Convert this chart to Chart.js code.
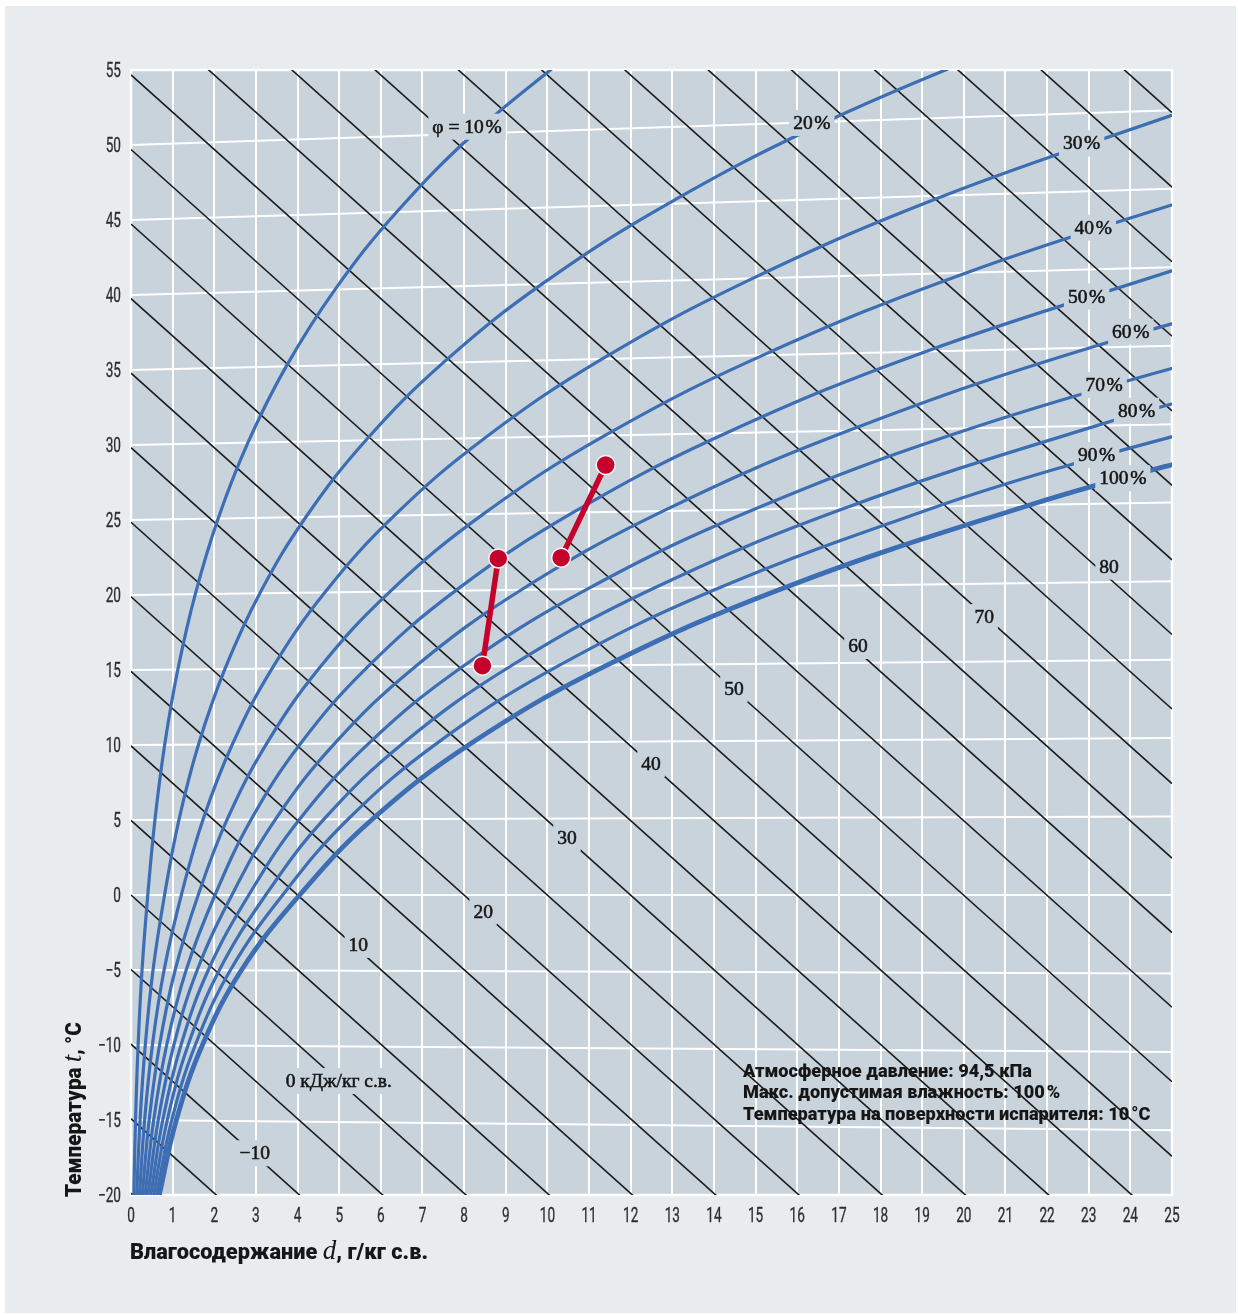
<!DOCTYPE html>
<html><head><meta charset="utf-8">
<script src="https://cdn.jsdelivr.net/npm/chart.js@4.4.1/dist/chart.umd.min.js"></script>
<style>html,body{margin:0;padding:0;background:#fff}#wrap{width:1238px;height:1315px;position:relative}</style>
</head><body><div id="wrap"><canvas id="c"></canvas></div>
<script>
// ---------- DATA ----------
// Relative humidity curves: [moisture content d (g/kg), temperature-axis value]
const humidityLevels = [10, 20, 30, 40, 50, 60, 70, 80, 90, 100];
const rh10 = [[0.068,-20],[0.109,-15],[0.171,-10],[0.265,-5],[0.403,0],[0.575,5.01],[0.809,10.02],[1.125,15.03],[1.544,20.06],[2.093,25.10],[2.808,30.16],[3.727,35.24],[4.899,40.36],[6.380,45.53],[8.237,50.77],[10.550,56.08]];
const rh20 = [[0.136,-20],[0.218,-15],[0.343,-10],[0.529,-5],[0.806,0],[1.151,5.01],[1.621,10.03],[2.254,15.06],[3.095,20.12],[4.201,25.20],[5.641,30.32],[7.499,35.49],[9.875,40.74],[12.892,46.08],[16.695,51.55],[21.464,57.20]];
const rh30 = [[0.204,-20],[0.327,-15],[0.514,-10],[0.795,-5],[1.209,0],[1.728,5.02],[2.435,10.05],[3.386,15.09],[4.654,20.17],[6.323,25.29],[8.500,30.47],[11.317,35.74],[14.931,41.11],[19.540,46.64],[25.384,52.36]];
const rh40 = [[0.272,-20],[0.436,-15],[0.686,-10],[1.060,-5],[1.614,0],[2.306,5.02],[3.250,10.06],[4.523,15.13],[6.220,20.23],[8.459,25.39],[11.385,30.64],[15.181,35.99],[20.069,41.49],[26.330,47.20]];
const rh50 = [[0.340,-20],[0.545,-15],[0.857,-10],[1.325,-5],[2.018,0],[2.885,5.03],[4.068,10.08],[5.665,15.16],[7.795,20.29],[10.609,25.49],[14.297,30.80],[19.093,36.24],[25.290,41.88]];
const rh60 = [[0.408,-20],[0.654,-15],[1.029,-10],[1.591,-5],[2.424,0],[3.465,5.03],[4.888,10.09],[6.810,15.19],[9.377,20.35],[12.775,25.59],[17.236,30.96],[23.052,36.50],[30.600,42.28]];
const rh70 = [[0.476,-20],[0.762,-15],[1.201,-10],[1.857,-5],[2.829,0],[4.046,5.04],[5.710,10.11],[7.959,15.22],[10.968,20.41],[14.955,25.70],[20.202,31.13],[27.061,36.76]];
const rh80 = [[0.544,-20],[0.871,-15],[1.372,-10],[2.123,-5],[3.236,0],[4.629,5.04],[6.534,10.12],[9.113,15.25],[12.566,20.47],[17.151,25.80],[23.195,31.29],[26.900,34.13],[31.120,37.03]];
const rh90 = [[0.612,-20],[0.980,-15],[1.544,-10],[2.389,-5],[3.642,0],[5.212,5.05],[7.361,10.14],[10.271,15.29],[14.173,20.53],[19.361,25.90],[22.520,28.65],[26.217,31.46]];
const rh100 = [[0.680,-20],[1.089,-15],[1.715,-10],[2.655,-5],[4.050,0],[5.796,5.05],[8.190,10.15],[11.433,15.32],[15.787,20.59],[21.587,26.00],[25.125,28.78],[29.267,31.63]];
const rhCurves = [rh10, rh20, rh30, rh40, rh50, rh60, rh70, rh80, rh90, rh100];

// Isotherms (white lines): value at d = 0 and at d = 25
const isothermT = [-20,-15,-10,-5,0,5,10,15,20,25,30,35,40,45,50,55];
const isothermRightY = [-20.92,-15.69,-10.46,-5.23,0,5.23,10.46,15.69,20.92,26.16,31.39,36.62,41.85,47.08,52.31,57.54];

// Enthalpy lines (kJ/kg): axis value at d = 0 and at d = 25
const enthalpyH = [-20,-15,-10,-5,0,5,10,15,20,25,30,35,40,45,50,55,60,65,70,75,80,85,90,95,100,105,110,115];
const enthalpyLeftY = [-19.88,-14.91,-9.94,-4.97,0,4.97,9.94,14.91,19.88,24.85,29.82,34.79,39.76,44.73,49.70,54.67,59.64,64.61,69.58,74.55,79.52,84.49,89.46,94.43,99.40,104.37,109.34,114.31];
const enthalpyRightY = [-82.03,-77.06,-72.09,-67.12,-62.15,-57.18,-52.21,-47.24,-42.27,-37.30,-32.33,-27.36,-22.39,-17.42,-12.45,-7.48,-2.51,2.46,7.43,12.40,17.37,22.34,27.31,32.28,37.25,42.22,47.19,52.16];

// Process lines (red)
const process1 = [[8.44,15.29],[8.82,22.44]];
const process2 = [[10.33,22.49],[11.40,28.67]];

// Curve labels
const rhLabelText = ['φ = 10\u200a%','20\u200a%','30\u200a%','40\u200a%','50\u200a%','60\u200a%','70\u200a%','80\u200a%','90\u200a%','100\u200a%'];
const rhLabelAt = [[8.07,51.22],[16.35,51.47],[22.83,50.11],[23.11,44.49],[22.95,39.89],[24.01,37.55],[23.37,34.0],[24.15,32.29],[23.19,29.33],[23.82,27.78]];
const hLabelText = ['\u221210','0 кДж/кг с.в.','10','20','30','40','50','60','70','80'];
const hLabelAt = [[2.97,-17.22],[4.99,-12.4],[5.46,-3.33],[8.46,-1.11],[10.47,3.80],[12.49,8.73],[14.48,13.73],[17.46,16.60],[20.49,18.53],[23.49,21.89]];

const notes = ['Атмосферное давление: 94,5 кПа','Макс. допустимая влажность: 100\u200a%','Температура на поверхности испарителя: 10\u200a°C'];

// ---------- STYLE ----------
const C = {panel:'#e8ecef', plot:'#c9d3dc', blue:'#3d6eb4', black:'#1b1b1b', white:'#ffffff', red:'#c4022c', text:'#161616', tick:'#2e2e2e'};
const pts = a => a.map(p => ({x:p[0], y:p[1]}));

const datasets = [];
[process1, process2].forEach(p => datasets.push({data:pts(p), showLine:true, borderColor:C.red, borderWidth:5.5,
  pointRadius:9.5, pointHoverRadius:9.5, pointBackgroundColor:C.red, pointBorderColor:'#f4f4f4', pointBorderWidth:1.5, order:0}));
rhCurves.forEach((c,i) => datasets.push({data:pts(c), showLine:true, borderColor:C.blue,
  borderWidth: humidityLevels[i]===100 ? 4.8 : 3.2, pointRadius:0, tension:0.4, order:1}));
enthalpyH.forEach((h,i) => datasets.push({data:[{x:0,y:enthalpyLeftY[i]},{x:25,y:enthalpyRightY[i]}], showLine:true,
  borderColor:C.black, borderWidth:1.6, pointRadius:0, order:2}));
isothermT.forEach((t,i) => datasets.push({data:[{x:0,y:t},{x:25,y:isothermRightY[i]}], showLine:true,
  borderColor:C.white, borderWidth:2, pointRadius:0, order:3}));

function drawScaled(ctx, text, x, y, sx, align, stroke){
  ctx.save(); ctx.translate(x,y); ctx.scale(sx,1); ctx.textAlign=align; ctx.fillText(text,0,0);
  if(stroke){ctx.lineWidth=stroke; ctx.strokeStyle=ctx.fillStyle; ctx.strokeText(text,0,0);} ctx.restore();
}
function drawRuns(ctx, runs, targetW){
  let ws=0, wi=0;
  runs.forEach(r=>{ctx.font=r.f; const w=ctx.measureText(r.t).width; r.w=w; if(r.sans) ws+=w; else wi+=w;});
  const s=(targetW-wi)/ws; let x=0;
  runs.forEach(r=>{ctx.font=r.f; ctx.save(); ctx.translate(x,0); if(r.sans) ctx.scale(s,1); ctx.textAlign='left'; ctx.fillText(r.t,0,0); ctx.restore(); x+= r.sans ? r.w*s : r.w;});
}

const deco = {
  id:'deco',
  beforeDraw(chart){
    const ctx=chart.ctx, a=chart.chartArea;
    ctx.save();
    ctx.fillStyle='#ffffff'; ctx.fillRect(0,0,chart.width,chart.height);
    ctx.fillStyle=C.panel; ctx.fillRect(5,6,1231,1307);
    ctx.fillStyle=C.plot; ctx.fillRect(a.left,a.top,a.right-a.left,a.bottom-a.top);
    ctx.restore();
  },
  beforeDatasetsDraw(chart){
    const ctx=chart.ctx, a=chart.chartArea;
    ctx.save(); ctx.strokeStyle=C.white; ctx.lineWidth=2.5;
    ctx.strokeRect(a.left,a.top,a.right-a.left,a.bottom-a.top); ctx.restore();
  },
  afterDatasetsDraw(chart){
    const ctx=chart.ctx, xs=chart.scales.x, ys=chart.scales.y;
    ctx.save();
    ctx.font='19.5px "Liberation Serif", "DejaVu Serif", serif';
    ctx.textBaseline='middle'; ctx.textAlign='center';
    const lab=(txt,p)=>{
      const x=xs.getPixelForValue(p[0]), y=ys.getPixelForValue(p[1]);
      const w=ctx.measureText(txt).width;
      ctx.fillStyle=C.plot; ctx.fillRect(x-w/2-4,y-13,w+8,26);
      ctx.fillStyle=C.text; ctx.fillText(txt,x,y+1);
      ctx.lineWidth=0.55; ctx.strokeStyle=C.text; ctx.strokeText(txt,x,y+1);
    };
    rhLabelText.forEach((t,i)=>lab(t,rhLabelAt[i]));
    hLabelText.forEach((t,i)=>lab(t,hLabelAt[i]));
    ctx.restore();
  },
  afterDraw(chart){
    const ctx=chart.ctx, xs=chart.scales.x, ys=chart.scales.y;
    ctx.save();
    ctx.fillStyle=C.tick; ctx.font='20px Roboto'; ctx.textBaseline='alphabetic';
    ys.ticks.forEach(t=>{
      const y=ys.getPixelForValue(t.value);
      const s=t.value<0 ? '\u2212'+Math.abs(t.value) : String(t.value);
      drawScaled(ctx,s,121,y+7,0.68,'right',0.3);
    });
    xs.ticks.forEach(t=>{
      const x=xs.getPixelForValue(t.value);
      drawScaled(ctx,String(t.value),x,1222,0.68,'center',0.3);
    });
    // axis titles
    ctx.fillStyle=C.text;
    ctx.save(); ctx.translate(130,1259);
    drawRuns(ctx,[{t:'Влагосодержание ',f:'900 22px Roboto',sans:true},{t:'d',f:'italic 27px "Liberation Serif"',sans:false},{t:', г/кг с.в.',f:'900 22px Roboto',sans:true}],298);
    ctx.restore();
    ctx.save(); ctx.translate(81,1197); ctx.rotate(-Math.PI/2);
    drawRuns(ctx,[{t:'Температура ',f:'900 22px Roboto',sans:true},{t:'t',f:'italic 27px "Liberation Serif"',sans:false},{t:', °C',f:'900 22px Roboto',sans:true}],175);
    ctx.restore();
    // notes
    ctx.font='900 19px Roboto';
    const s=289/ctx.measureText(notes[0]).width;
    [1077,1098.3,1119.7].forEach((y,i)=>drawScaled(ctx,notes[i],743,y,s,'left'));
    ctx.restore();
  }
};

new Chart(document.getElementById('c'), {
  type:'scatter',
  data:{datasets},
  options:{
    responsive:true, maintainAspectRatio:false, animation:false, devicePixelRatio:1,
    layout:{padding:{left:0,top:70,right:66,bottom:0}},
    plugins:{legend:{display:false}, tooltip:{enabled:false}},
    events:[],
    scales:{
      x:{type:'linear', min:0, max:25, ticks:{display:false, stepSize:1},
         grid:{color:C.white, lineWidth:2, drawTicks:false}, border:{display:false},
         afterFit:s=>{s.height=120;}},
      y:{type:'linear', min:-20, max:55, ticks:{display:false, stepSize:5},
         grid:{display:false, drawTicks:false}, border:{display:false},
         afterFit:s=>{s.width=131;}}
    }
  },
  plugins:[deco]
});
</script></body></html>
